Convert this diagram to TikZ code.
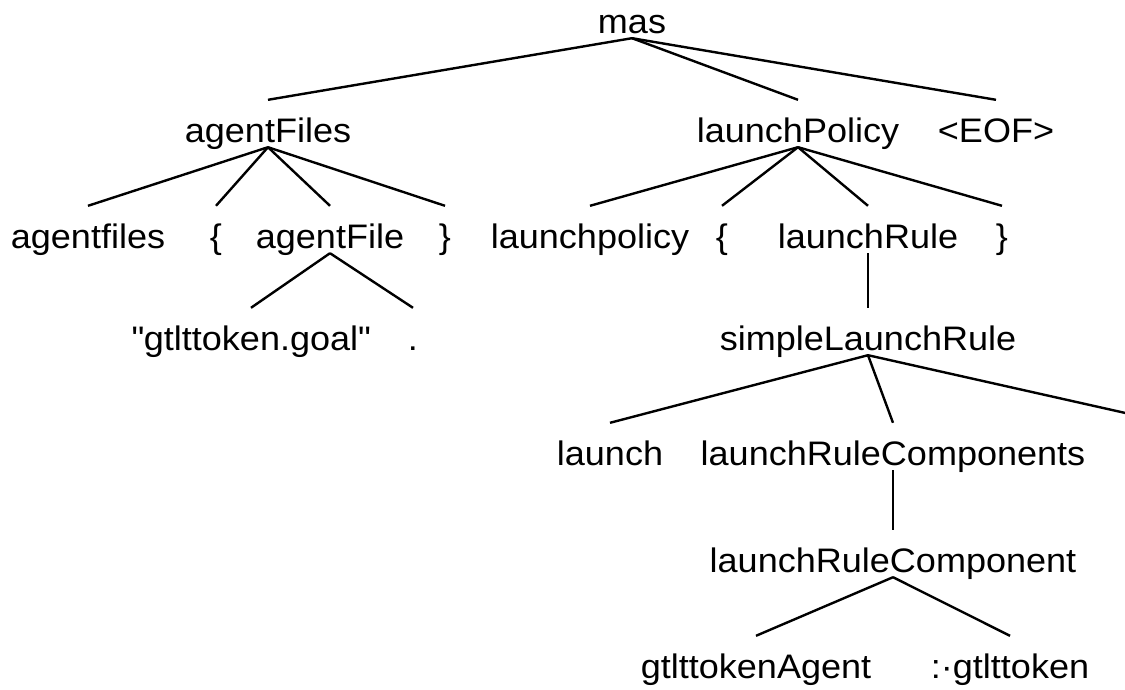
\documentclass[tikz,border=0pt]{standalone}
\usepackage{fontspec}
\setmainfont{Liberation Sans}[FakeStretch=1.06]
\usetikzlibrary{positioning}

\begin{document}
\begin{tikzpicture}[
            x=1pt, y=-1pt,
            tnode/.style={anchor=base, inner sep=0pt, text height=42pt, text depth=5pt, font=\fontsize{34pt}{40pt}\selectfont},
            edge/.style={line width=2.4pt, color=black}
        ]
            \clip (0,0) rectangle (1125,689);

            % Root
            \node[tnode] (mas) at (632,33) {mas};

            % Level 1
            \node[tnode] (agentFiles) at (268,142) {agentFiles};
            \node[tnode] (launchPolicy) at (798,142) {launchPolicy};
            \node[tnode] (eof) at (996,142) {<EOF>};

            % Level 2
            \node[tnode] (agentfiles) at (88,248) {agentfiles};
            \node[tnode] (lbrA) at (216,248) {\{};
            \node[tnode] (agentFile) at (330,248) {agentFile};
            \node[tnode] (rbrA) at (445,248) {\}};
            \node[tnode] (launchpolicy) at (590,248) {launchpolicy};
            \node[tnode] (lbrL) at (722,248) {\{};
            \node[tnode] (launchRule) at (868,248) {launchRule};
            \node[tnode] (rbrL) at (1002,248) {\}};

            % Level 3
            \node[tnode] (goalFile) at (251,350) {\textquotedbl gtlttoken.goal\textquotedbl};
            \node[tnode] (dot) at (413,350) {.};
            \node[tnode] (slr) at (868,350) {simpleLaunchRule};

            % Level 4
            \node[tnode] (launch) at (610,465) {launch};
            \node[tnode] (lrcs) at (893,465) {launchRuleComponents};
            \coordinate (hidden) at (1170,423);

            % Level 5 and 6
            \node[tnode] (lrc) at (893,572) {launchRuleComponent};
            \node[tnode] (agentTok) at (756,678) {gtlttokenAgent};
            \node[tnode] (tok) at (1010,678) {:·gtlttoken};

            % Edges
            \foreach \c in {agentFiles, launchPolicy, eof}
                \draw[edge] (mas.south) -- (\c.north);
            \foreach \c in {agentfiles, lbrA, agentFile, rbrA}
                \draw[edge] (agentFiles.south) -- (\c.north);
            \foreach \c in {launchpolicy, lbrL, launchRule, rbrL}
                \draw[edge] (launchPolicy.south) -- (\c.north);
            \draw[edge] (agentFile.south) -- (goalFile.north);
            \draw[edge] (agentFile.south) -- (dot.north);
            \draw[edge] (launchRule.south) -- (slr.north);
            \draw[edge] (slr.south) -- (launch.north);
            \draw[edge] (slr.south) -- (lrcs.north);
            \draw[edge] (slr.south) -- (hidden);
            \draw[edge] (lrcs.south) -- (lrc.north);
            \draw[edge] (lrc.south) -- (agentTok.north);
            \draw[edge] (lrc.south) -- (tok.north);
        \end{tikzpicture}
\end{document}
